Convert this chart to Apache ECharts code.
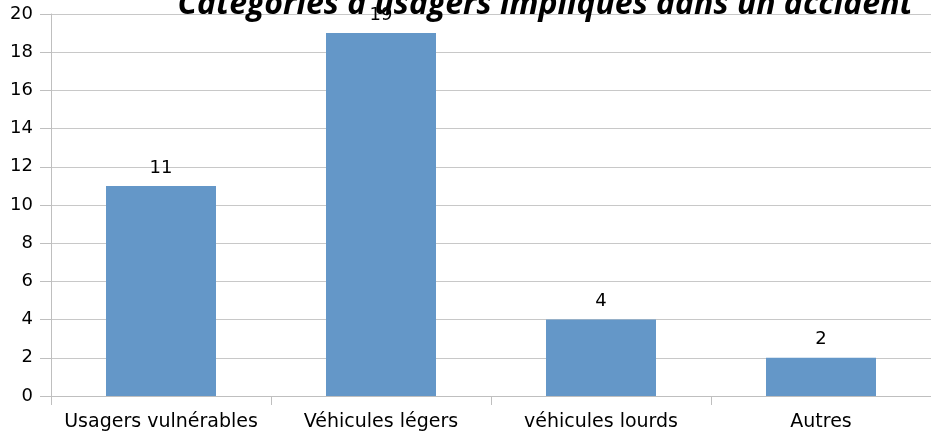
<!DOCTYPE html>
<html>
<head>
<meta charset="utf-8">
<script src="https://cdn.jsdelivr.net/npm/echarts@6/dist/echarts.min.js"></script>
<style>
  html, body { margin: 0; padding: 0; background: #fff; }
  #chart { width: 931px; height: 438px; }
</style>
</head>
<body>
<div id="chart"></div>
<script>
var categories = ["Usagers vulnérables", "Véhicules légers", "véhicules lourds", "Autres"];
var values = [11, 19, 4, 2];
var titleText = "Catégories d'usagers impliqués dans un accident";

var chart = echarts.init(document.getElementById("chart"));
var option = {
  animation: false,
  textStyle: { fontFamily: "DejaVu Sans" },
  title: {
    text: titleText,
    left: 540,
    textAlign: "center",
    top: -16,
    textStyle: {
      fontFamily: "Open Sans",
      fontSize: 32,
      fontWeight: "bold",
      fontStyle: "italic",
      color: "#000"
    }
  },
  grid: {
    left: 51,
    right: -9,
    top: 14,
    bottom: 42
  },
  xAxis: {
    type: "category",
    data: categories,
    axisLine: { lineStyle: { color: "#bfbfbf", width: 1 } },
    axisTick: { show: true, length: 9, lineStyle: { color: "#bfbfbf" } },
    axisLabel: { color: "#000", fontSize: 19, margin: 17, interval: 0 }
  },
  yAxis: {
    type: "value",
    min: 0,
    max: 20,
    interval: 2,
    axisLine: { show: true, lineStyle: { color: "#bfbfbf", width: 1 } },
    axisTick: { show: true, length: 11, lineStyle: { color: "#bfbfbf" } },
    splitLine: { lineStyle: { color: "#c8c8c8", width: 1 } },
    axisLabel: { color: "#000", fontSize: 18, margin: 18 }
  },
  series: [{
    type: "bar",
    data: values,
    barWidth: "50%",
    itemStyle: { color: "#6497c8" },
    label: {
      show: true,
      position: "top",
      distance: 9,
      color: "#000",
      fontSize: 18
    }
  }]
};
chart.setOption(option);
</script>
</body>
</html>
